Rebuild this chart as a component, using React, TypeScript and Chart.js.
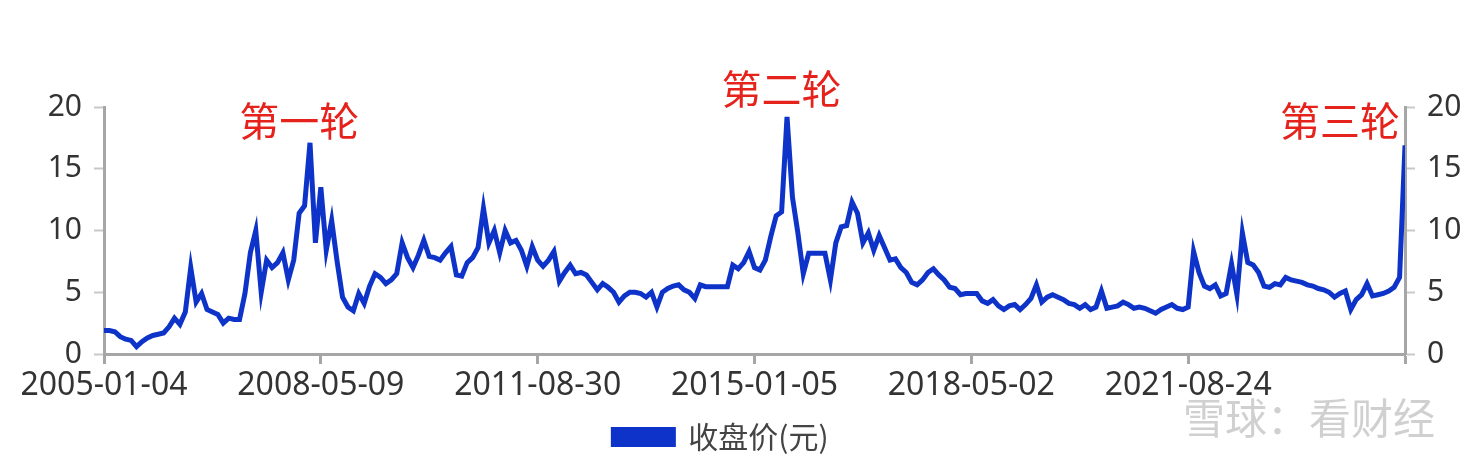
import React, { useEffect, useRef } from "react";
import { Chart, registerables } from "chart.js";

Chart.register(...registerables);

const xTickLabels = ["2005-01-04", "2008-05-09", "2011-08-30", "2015-01-05", "2018-05-02", "2021-08-24", ""];
const pointsPerTick = 40;

const closePrices = [
  1.9, 1.9, 1.8, 1.4, 1.2, 1.1, 0.6, 1.0, 1.3, 1.5, 1.6, 1.7, 2.2, 2.9, 2.4, 3.4, 7.0, 4.2, 4.9, 3.6,
  3.4, 3.2, 2.5, 2.9, 2.8, 2.8, 4.9, 8.2, 10.0, 5.0, 7.6, 7.0, 7.4, 8.2, 6.0, 7.6, 11.4, 12.0, 17.1, 9.0,
  13.5,
  8.4, 10.8, 7.5, 4.6, 3.8, 3.5, 4.9, 4.1, 5.5, 6.5, 6.2, 5.7, 6.0, 6.5, 9.0, 7.8, 7.0, 8.0, 9.2, 7.9,
  7.8, 7.6, 8.2, 8.7, 6.4, 6.3, 7.4, 7.8, 8.6, 11.8, 9.0, 10.0, 8.2, 10.0, 9.0, 9.2, 8.4, 7.1, 8.7, 7.6,
  7.1, 7.6, 8.3, 5.9, 6.6, 7.2, 6.5, 6.6, 6.4, 5.8, 5.2, 5.7, 5.4, 5.0, 4.2, 4.7, 5.0, 5.0, 4.9, 4.6,
  5.0, 3.8, 5.0, 5.3, 5.5, 5.6, 5.2, 5.0, 4.5, 5.6, 5.45, 5.45, 5.45, 5.45, 5.45, 7.2, 6.9, 7.4, 8.3, 7.0,
  6.8, 7.6, 9.5, 11.2, 11.5, 19.2, 12.7, 9.8, 6.5, 8.15, 8.15, 8.15, 8.15, 6.0, 9.0, 10.3, 10.4, 12.3, 11.4, 9.0,
  9.8, 8.4, 9.6, 8.6, 7.6, 7.7, 7.0, 6.6, 5.8, 5.6, 6.0, 6.6, 6.9, 6.4, 6.0, 5.4, 5.3, 4.8, 4.9, 4.9,
  4.9, 4.3, 4.1, 4.4, 3.9, 3.6, 3.9, 4.0, 3.6, 4.0, 4.5, 5.6, 4.2, 4.6, 4.8, 4.6, 4.4, 4.1, 4.0, 3.7,
  4.0, 3.6, 3.8, 5.1, 3.7, 3.8, 3.9, 4.2, 4.0, 3.7, 3.8, 3.7, 3.5, 3.3, 3.6, 3.8, 4.0, 3.7, 3.6, 3.8,
  8.3, 6.6, 5.5, 5.3, 5.6, 4.7, 4.9, 7.3, 4.8, 9.8, 7.4, 7.2, 6.6, 5.5, 5.4, 5.7, 5.6, 6.2, 6.0, 5.9,
  5.8, 5.6, 5.5, 5.3, 5.2, 5.0, 4.6, 4.9, 5.1, 3.6, 4.4, 4.8, 5.7, 4.7, 4.8, 4.9, 5.1, 5.4, 6.2, 16.9,
];

const seriesName = "收盘价(元)";
const roundLabels = ["第一轮", "第二轮", "第三轮"];
const roundIndex = [36, 125, 228];
const roundValue = [18.9, 21.5, 18.9];
const watermarkText = "雪球：看财经";

const FONT = "'Noto Sans', 'Noto Sans CJK SC', sans-serif";
const CJK_FONT = "'Noto Sans CJK SC', 'Noto Sans', sans-serif";

const annotationPlugin = {
  id: "roundLabels",
  afterLayout(chart: any) {
    const l = chart.legend;
    if (l) {
      l.left -= 21;
      l.right -= 21;
    }
  },
  afterDatasetsDraw(chart: any) {
    const { ctx, scales } = chart;
    ctx.save();
    ctx.font = `40px ${CJK_FONT}`;
    ctx.fillStyle = "#e5221c";
    ctx.textAlign = "center";
    ctx.textBaseline = "middle";
    roundLabels.forEach((t, i) => {
      const x = scales.x.getPixelForValue(roundIndex[i]);
      const y = scales.y.getPixelForValue(roundValue[i]);
      ctx.fillText(t, x, y);
    });
    ctx.restore();
  },
  afterDraw(chart: any) {
    const { ctx } = chart;
    ctx.save();
    ctx.font = `42px ${CJK_FONT}`;
    ctx.fillStyle = "rgba(150,150,150,0.45)";
    ctx.textAlign = "left";
    ctx.textBaseline = "middle";
    ctx.fillText(watermarkText, 1183, 418);
    ctx.restore();
  },
};

export default function App() {
  const canvasRef = useRef<HTMLCanvasElement | null>(null);

  useEffect(() => {
    if (!canvasRef.current) return;
    const axisColor = "#a6a6a6";
    const tickFont = { family: FONT, size: 30 };
    const chart = new Chart(canvasRef.current, {
      type: "line",
      data: {
        datasets: [
          {
            label: seriesName,
            data: closePrices.map((v, i) => ({ x: i, y: v })),
            borderColor: "#0d33c9",
            backgroundColor: "#0d33c9",
            borderWidth: 5,
            pointRadius: 0,
            tension: 0,
            yAxisID: "y",
          },
        ],
      },
      options: {
        responsive: false,
        animation: false,
        layout: { padding: { top: 107, bottom: 0, left: 0, right: 0 } },
        plugins: {
          legend: {
            position: "bottom",
            labels: {
              boxWidth: 60,
              boxHeight: 15,
              padding: 10,
              color: "#444",
              font: { family: CJK_FONT, size: 30 },
            },
          },
          tooltip: { enabled: false },
        },
        scales: {
          x: {
            type: "linear",
            min: 0,
            max: (xTickLabels.length - 1) * pointsPerTick,
            afterFit: (s: any) => {
              s.height = 58;
            },
            ticks: {
              stepSize: pointsPerTick,
              autoSkip: false,
              maxRotation: 0,
              padding: 3,
              color: "#333",
              font: { family: FONT, size: 32 },
              callback: (v: any) => xTickLabels[Math.round(Number(v) / pointsPerTick)] ?? "",
            },
            grid: { drawOnChartArea: false, tickLength: 10, tickColor: axisColor, tickWidth: 3 },
            border: { display: true, color: axisColor, width: 3 },
          },
          y: {
            position: "left",
            min: 0,
            max: 20,
            afterFit: (s: any) => {
              s.width = 104;
            },
            ticks: { stepSize: 5, padding: 12, color: "#333", font: tickFont },
            grid: { drawOnChartArea: false, tickLength: 10, tickColor: "#c8c8c8", tickWidth: 2 },
            border: { display: true, color: axisColor, width: 3 },
          },
          y2: {
            position: "right",
            min: 0,
            max: 20,
            afterFit: (s: any) => {
              s.width = 79;
            },
            ticks: { stepSize: 5, padding: 12, color: "#333", font: tickFont },
            grid: { drawOnChartArea: false, tickLength: 10, tickColor: "#c8c8c8", tickWidth: 2 },
            border: { display: true, color: axisColor, width: 3 },
          },
        },
      },
      plugins: [annotationPlugin],
    } as any);
    return () => chart.destroy();
  }, []);

  return (
    <div style={{ position: "fixed", left: 0, top: 0, width: 1484, height: 462, background: "#fff" }}>
      <canvas ref={canvasRef} width={1484} height={462} style={{ width: 1484, height: 462 }} />
    </div>
  );
}
